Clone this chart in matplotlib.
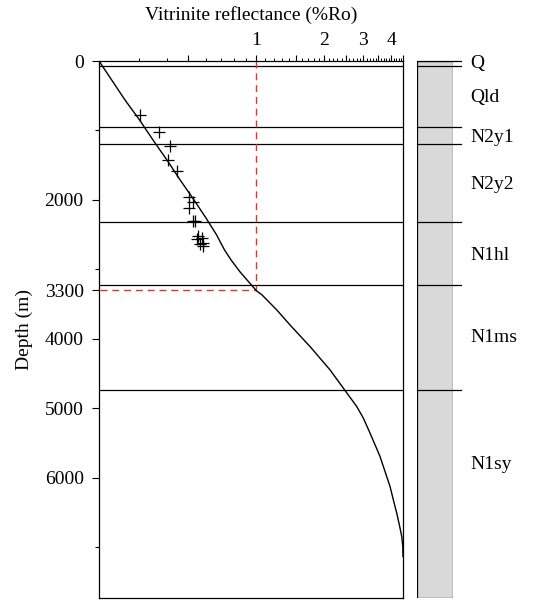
import matplotlib
matplotlib.use("Agg")
import matplotlib.pyplot as plt
import matplotlib.ticker as mticker
import numpy as np

plt.rcParams['font.family'] = ['Liberation Serif', 'DejaVu Serif']

# maturity curve (Ro %, depth m)
curve_ro = [0.2, 0.261, 0.303, 0.355, 0.401, 0.459, 0.529, 0.598, 0.667, 0.723,
            0.773, 0.848, 0.935, 1.004, 1.062, 1.235, 1.414, 1.737,
            2.131, 2.442, 2.802, 2.998, 3.211, 3.380, 3.557, 3.744,
            3.941, 4.076, 4.22, 4.334, 4.443, 4.489, 4.5]
curve_depth = [0, 561, 849, 1180, 1424, 1712, 2000, 2259, 2504, 2719,
               2863, 3036, 3194, 3309, 3367, 3583, 3799, 4111,
               4446, 4709, 4974, 5141, 5357, 5525, 5694, 5910,
               6125, 6317, 6508, 6676, 6845, 6989, 7132]

# measured samples
meas_ro = [0.304, 0.371, 0.414, 0.407, 0.446, 0.504, 0.525, 0.504, 0.525, 0.536,
           0.553, 0.573, 0.544, 0.582, 0.563, 0.582]
meas_depth = [781, 1027, 1230, 1425, 1577, 1954, 2036, 2109, 2301, 2301,
              2518, 2543, 2566, 2615, 2638, 2663]

# formation tops and labels
boundaries = [0, 65, 951, 1197, 2311, 3220, 4730]
formations = ['Q', 'Qld', 'N2y1', 'N2y2', 'N1hl', 'N1ms', 'N1sy']
label_depth = [40, 530, 1095, 1771, 2793, 3987, 5814]

oil_window_ro = 1.0
oil_window_depth = 3300

ytick_major = [0, 2000, 3300, 4000, 5000, 6000]
ytick_minor = [1000, 3000, 7000]
xtick_major = [0.5, 1, 1.5, 2, 2.5, 3, 3.5, 4, 4.5]
xtick_labels = ['', '1', '', '2', '', '3', '', '4', '']

W, H = 534, 603
fig = plt.figure(figsize=(W / 100, H / 100), dpi=100)

def px_axes(x0, y0, x1, y1):
    return fig.add_axes([x0 / W, 1 - y1 / H, (x1 - x0) / W, (y1 - y0) / H])

ax = px_axes(99, 61, 403, 598)
ax.set_xscale('log')
ax.set_xlim(0.2, 4.5)
ax.set_ylim(7730, 0)

red = '#e8352c'
ax.plot(curve_ro, curve_depth, color='black', lw=1.0, zorder=3)
ax.plot(meas_ro, meas_depth, linestyle='none', marker='+', ms=8, mew=0.9,
        color='black', zorder=3)
for b in boundaries[1:]:
    ax.axhline(b, color='black', lw=0.9, zorder=2)
ax.plot([oil_window_ro, oil_window_ro], [0, oil_window_depth], color=red,
        lw=1.0, ls=(0, (5, 3.5)), zorder=2)
ax.plot([0.203, oil_window_ro], [oil_window_depth, oil_window_depth], color=red,
        lw=1.0, ls=(0, (5, 3.5)), zorder=2)

ax.xaxis.tick_top()
ax.xaxis.set_label_position('top')
ax.xaxis.set_major_locator(mticker.FixedLocator(xtick_major))
ax.xaxis.set_major_formatter(mticker.FixedFormatter(xtick_labels))
minors = [v for v in np.round(np.arange(0.3, 4.45, 0.1), 1) if v not in xtick_major]
ax.xaxis.set_minor_locator(mticker.FixedLocator(minors))
ax.xaxis.set_minor_formatter(mticker.NullFormatter())
ax.tick_params(axis='x', which='major', length=4.5, width=0.8, pad=4, labelsize=14)
ax.tick_params(axis='x', which='minor', length=2.5, width=0.7)
for t in ax.xaxis.get_major_ticks():
    if t.get_loc() == oil_window_ro:
        t.tick2line.set_color(red)
        t.tick2line.set_markeredgecolor(red)
ax.set_xlabel('Vitrinite reflectance (%Ro)', fontsize=14, labelpad=9)

ax.set_yticks(ytick_major)
ax.set_yticks(ytick_minor, minor=True)
ax.tick_params(axis='y', which='major', length=5, width=0.8, pad=6, labelsize=14)
ax.tick_params(axis='y', which='minor', length=3, width=0.8)
ax.set_ylabel('Depth (m)', fontsize=14, labelpad=8)
for s in ax.spines.values():
    s.set_linewidth(0.9)

# stratigraphic column
col = px_axes(417, 61, 453, 598)
col.set_xlim(0, 1)
col.set_ylim(7730, 0)
col.axis('off')
col.add_patch(plt.Rectangle((0, 0), 1, 7730, facecolor='#d9d9d9',
                            edgecolor='black', lw=0.9))
for b in boundaries:
    col.plot([0, 44 / 36], [b, b], color='black', lw=0.9, clip_on=False)
for name, d in zip(formations, label_depth):
    col.text(53 / 36, d, name, fontsize=14, va='center', ha='left', clip_on=False)

fig.savefig('out.png', dpi=100)
